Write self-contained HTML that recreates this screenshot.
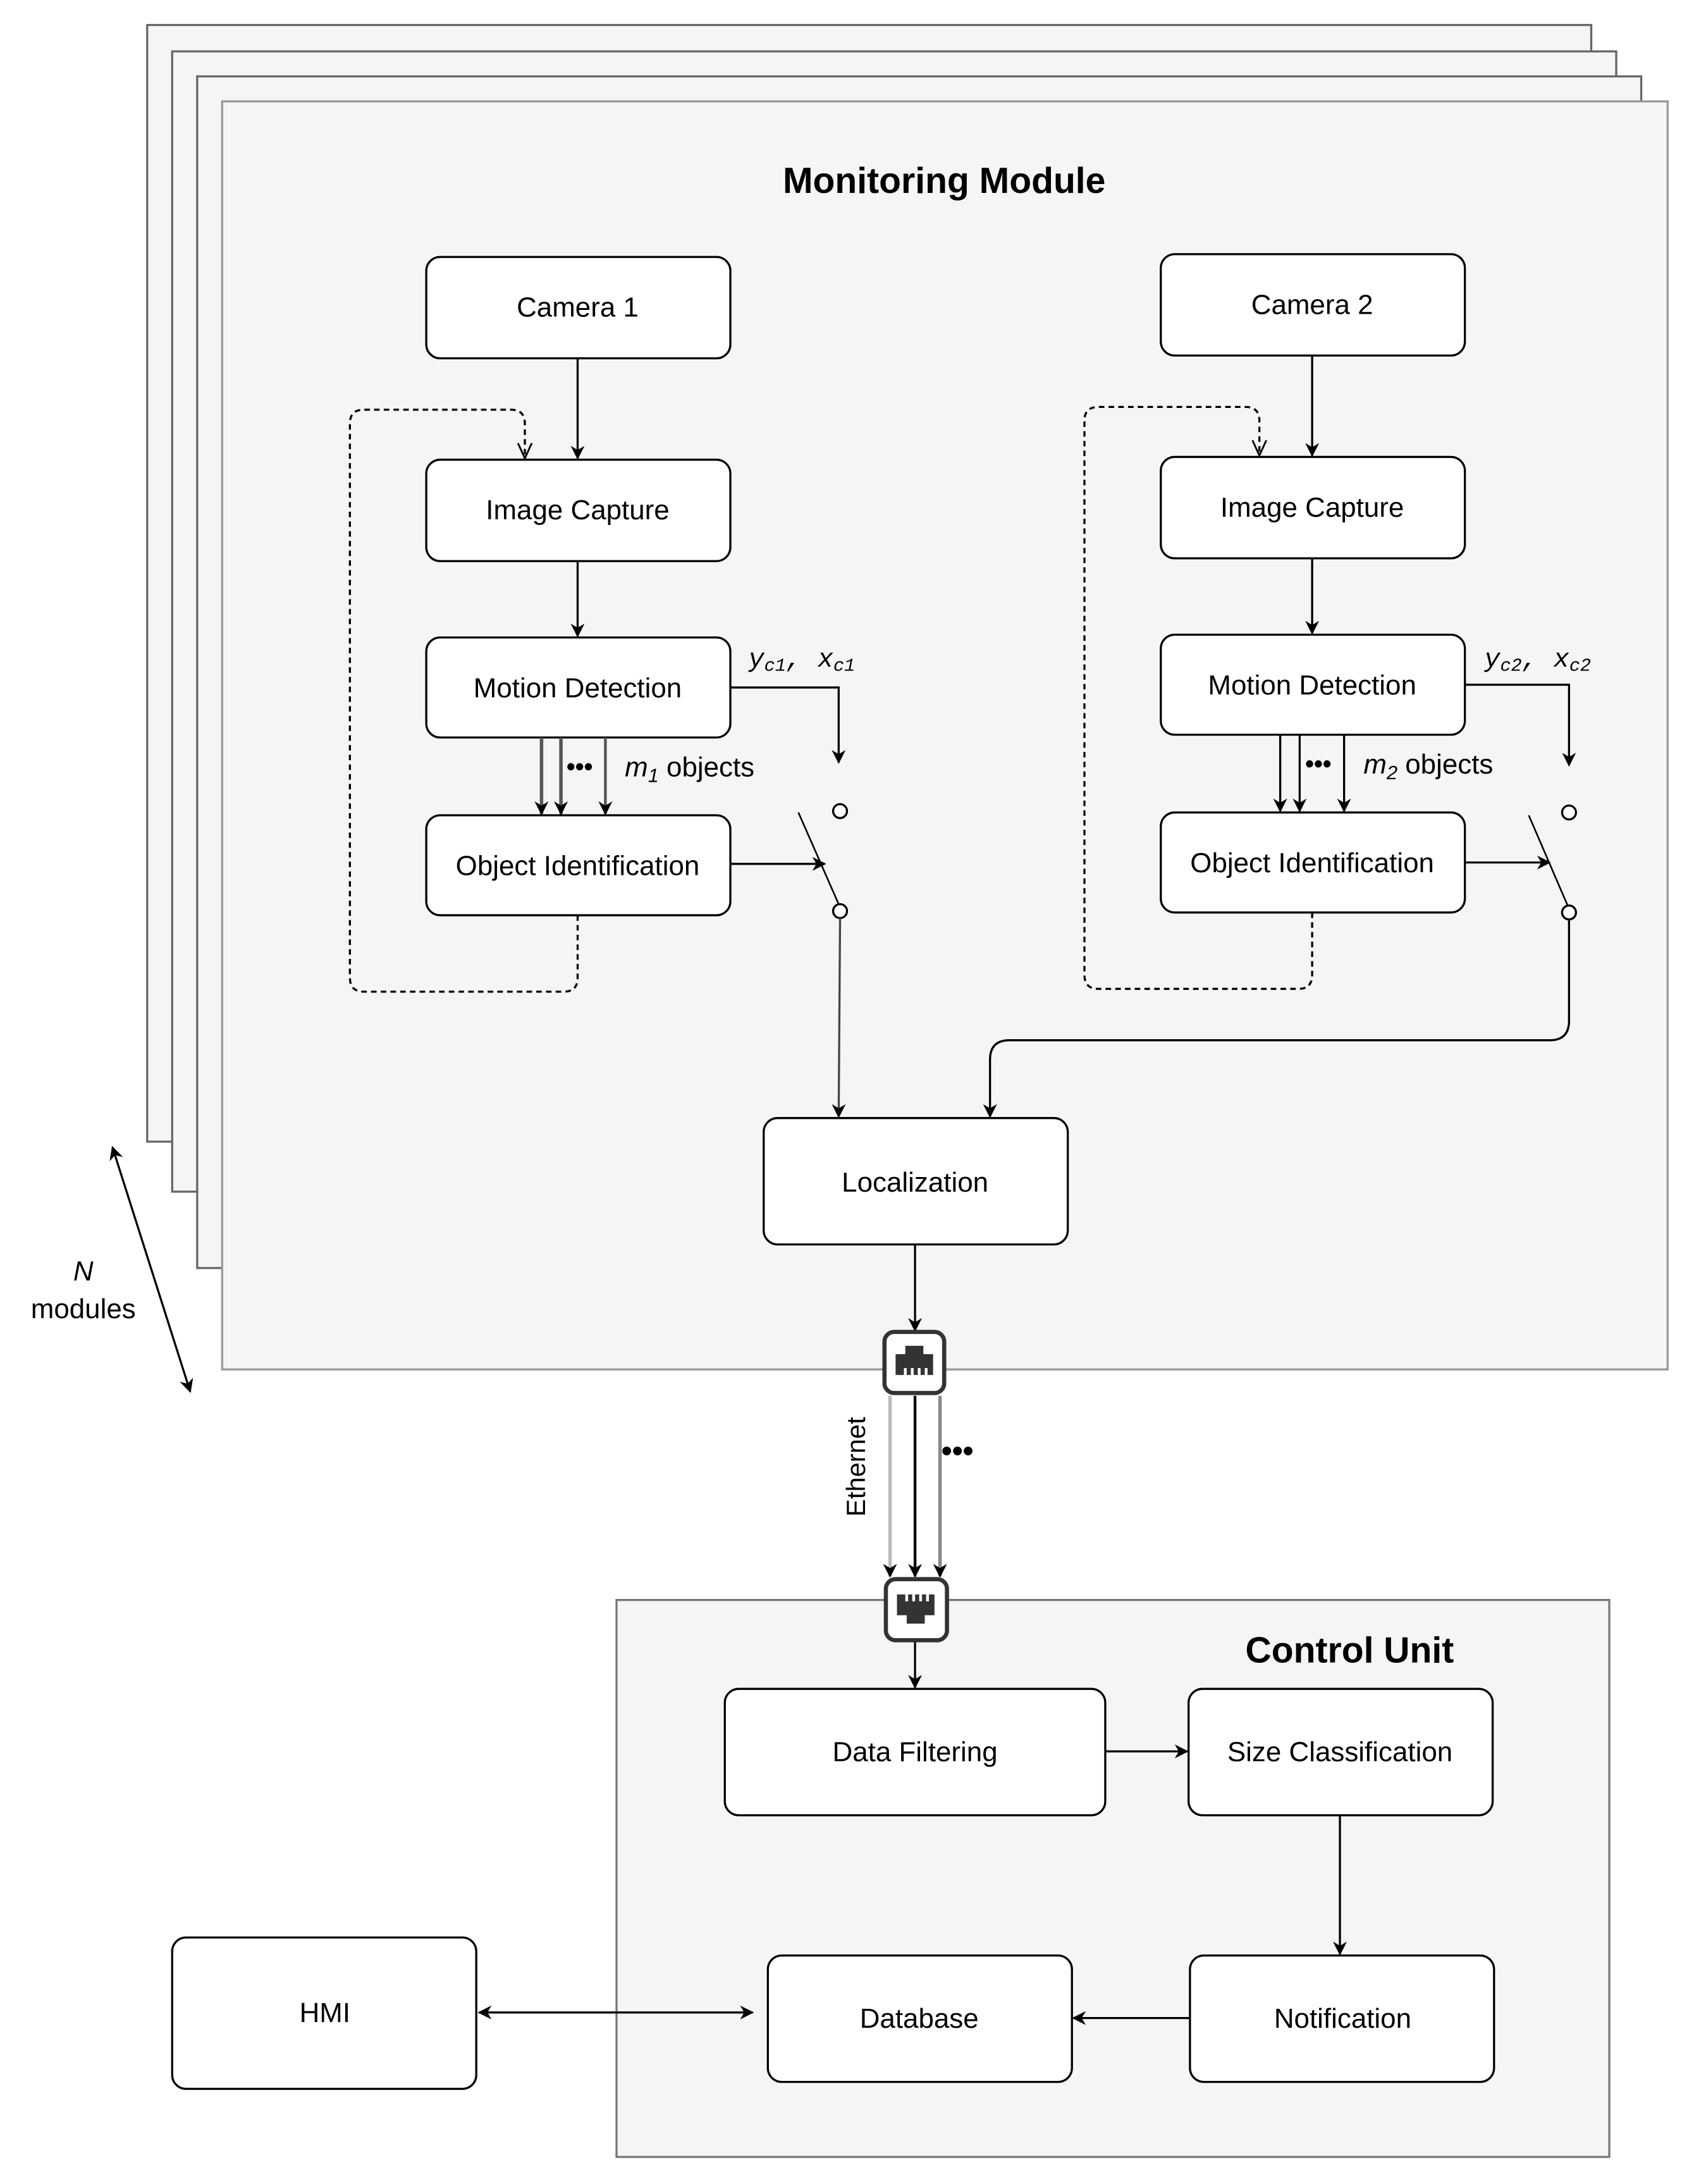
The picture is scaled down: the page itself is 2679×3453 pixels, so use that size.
<!DOCTYPE html>
<html><head><meta charset="utf-8"><style>html,body{margin:0;padding:0;background:#fff}svg{display:block}</style></head>
<body>
<svg width="2679" height="3453" viewBox="0 0 1220 1572.5" preserveAspectRatio="none" xmlns="http://www.w3.org/2000/svg" font-family="Liberation Sans, sans-serif">
<defs>
<marker id="a" markerWidth="10" markerHeight="10" refX="9" refY="5" orient="auto" markerUnits="userSpaceOnUse"><path d="M0,0 L10,5 L0,10 L3,5 z" fill="#000"/></marker>
<marker id="as" markerWidth="10" markerHeight="10" refX="1" refY="5" orient="auto" markerUnits="userSpaceOnUse"><path d="M10,0 L0,5 L10,10 L7,5 z" fill="#000"/></marker>
<marker id="ao" markerWidth="12" markerHeight="12" refX="11" refY="6" orient="auto" markerUnits="userSpaceOnUse"><path d="M0,1 L11,6 L0,11" fill="none" stroke="#000" stroke-width="1.3"/></marker>
<marker id="aso" markerWidth="12" markerHeight="12" refX="1" refY="6" orient="auto" markerUnits="userSpaceOnUse"><path d="M12,1 L1,6 L12,11" fill="none" stroke="#000" stroke-width="1.3"/></marker>
</defs>
<g fill="#f5f5f5" stroke="#666" stroke-width="1.5">
<rect x="106" y="18" width="1040" height="804"/>
<rect x="124" y="37" width="1040" height="821"/>
<rect x="142" y="55" width="1040" height="858"/>
<rect x="160" y="73" width="1041" height="913" stroke="#999"/>
<rect x="444" y="1152" width="715" height="401" stroke="#777"/>
</g>
<text x="680" y="139" font-size="26" font-weight="bold" text-anchor="middle">Monitoring Module</text>
<text x="972" y="1197" font-size="26" font-weight="bold" text-anchor="middle">Control Unit</text>
<g fill="#fff" stroke="#000" stroke-width="1.5">
<rect x="307" y="185" width="219" height="73" rx="10"/>
<rect x="836" y="183" width="219" height="73" rx="10"/>
<rect x="307" y="331" width="219" height="73" rx="10"/>
<rect x="836" y="329" width="219" height="73" rx="10"/>
<rect x="307" y="459" width="219" height="72" rx="10"/>
<rect x="836" y="457" width="219" height="72" rx="10"/>
<rect x="307" y="587" width="219" height="72" rx="10"/>
<rect x="836" y="585" width="219" height="72" rx="10"/>
<rect x="550" y="805" width="219" height="91" rx="10"/>
<rect x="522" y="1216" width="274" height="91" rx="10"/>
<rect x="856" y="1216" width="219" height="91" rx="10"/>
<rect x="553" y="1408" width="219" height="91" rx="10"/>
<rect x="857" y="1408" width="219" height="91" rx="10"/>
<rect x="124" y="1395" width="219" height="109" rx="10"/>
</g>
<g font-size="20" text-anchor="middle">
<text x="416" y="228">Camera 1</text>
<text x="945" y="226">Camera 2</text>
<text x="416" y="374">Image Capture</text>
<text x="945" y="372">Image Capture</text>
<text x="416" y="502">Motion Detection</text>
<text x="945" y="500">Motion Detection</text>
<text x="416" y="630">Object Identification</text>
<text x="945" y="628">Object Identification</text>
<text x="659" y="858">Localization</text>
<text x="659" y="1268">Data Filtering</text>
<text x="965" y="1268">Size Classification</text>
<text x="662" y="1460">Database</text>
<text x="967" y="1460">Notification</text>
<text x="234" y="1456">HMI</text>
</g>
<g stroke="#000" stroke-width="1.5" fill="none">
<path d="M416 258 V330" marker-end="url(#a)"/>
<path d="M945 256 V328" marker-end="url(#a)"/>
<path d="M416 404 V458" marker-end="url(#a)"/>
<path d="M945 402 V456" marker-end="url(#a)"/>
<path d="M416 659 V704 Q416 714 406 714 H262 Q252 714 252 704 V305 Q252 295 262 295 H368 Q378 295 378 305 V330" stroke-dasharray="4,3" marker-end="url(#ao)"/>
<path d="M945 657 V702 Q945 712 935 712 H791 Q781 712 781 702 V303 Q781 293 791 293 H897 Q907 293 907 303 V328" stroke-dasharray="4,3" marker-end="url(#ao)"/>
<path d="M390 531 V586" stroke="#555" stroke-width="2.5" marker-end="url(#a)"/>
<path d="M404 531 V586" stroke="#555" stroke-width="2.5" marker-end="url(#a)"/>
<path d="M436 531 V586" stroke="#555" stroke-width="2" marker-end="url(#a)"/>
<path d="M922 529 V584" marker-end="url(#a)"/>
<path d="M936 529 V584" marker-end="url(#a)"/>
<path d="M968 529 V584" marker-end="url(#a)"/>
<path d="M526 495 H604 V549" marker-end="url(#a)"/>
<path d="M1055 493 H1130 V551" marker-end="url(#a)"/>
<circle cx="605" cy="584" r="5" fill="#fff"/>
<circle cx="605" cy="656" r="5" fill="#fff"/>
<circle cx="1130" cy="585" r="5" fill="#fff"/>
<circle cx="1130" cy="657" r="5" fill="#fff"/>
<path d="M575 585 L604 651" stroke-width="1.2"/>
<path d="M1101 587 L1129 652" stroke-width="1.2"/>
<path d="M526 622 H594" marker-end="url(#a)"/>
<path d="M1055 621 H1116" marker-end="url(#a)"/>
<path d="M605 661 L604 804" stroke="#444" marker-end="url(#a)"/>
<path d="M1130 662 V735 Q1130 749 1116 749 H727 Q713 749 713 763 V804" marker-end="url(#a)"/>
<path d="M659 896 V958" marker-end="url(#a)"/>
<path d="M641 1005 V1135" stroke="#bbb" stroke-width="2.5" marker-end="url(#a)"/>
<path d="M659 1005 V1135" stroke-width="2" marker-end="url(#a)"/>
<path d="M677 1005 V1135" stroke="#888" stroke-width="2.5" marker-end="url(#a)"/>
<path d="M659 1181 V1215" marker-end="url(#a)"/>
<path d="M796 1261 H855" marker-end="url(#a)"/>
<path d="M965 1307 V1407" marker-end="url(#a)"/>
<path d="M857 1453 H773" marker-end="url(#a)"/>
<path d="M345 1449 H542" marker-start="url(#as)" marker-end="url(#a)"/>
<path d="M81 826 L137 1002" marker-start="url(#as)" marker-end="url(#a)"/>
</g>
<g stroke="#333" stroke-width="3" fill="#fff">
<rect x="637" y="959" width="43" height="44" rx="7"/>
<rect x="638" y="1137" width="44" height="44" rx="7"/>
</g>
<g fill="#333">
<path d="M645 975 H652 V969 H665 V975 H672 V990 H645 z"/>
<path d="M646 1148 H673 V1163 H666 V1169 H653 V1163 H646 z"/>
</g>
<g fill="#fff"><rect x="651" y="985" width="2" height="5"/><rect x="656" y="985" width="2" height="5"/><rect x="661" y="985" width="2" height="5"/><rect x="666" y="985" width="2" height="5"/>
<rect x="652" y="1148" width="2" height="5"/><rect x="657" y="1148" width="2" height="5"/><rect x="662" y="1148" width="2" height="5"/><rect x="667" y="1148" width="2" height="5"/></g>
<text transform="translate(623 1092) rotate(-90)" font-size="19">Ethernet</text>
<text x="678" y="1052" font-size="22" font-weight="bold">•••</text>
<text x="408" y="558" font-size="18" font-weight="bold">•••</text>
<text x="940" y="556" font-size="18" font-weight="bold">•••</text>
<text x="450" y="559" font-size="20"><tspan font-style="italic">m</tspan><tspan font-style="italic" font-size="14" dy="4">1</tspan><tspan dy="-4"> objects</tspan></text>
<text x="982" y="557" font-size="20"><tspan font-style="italic">m</tspan><tspan font-style="italic" font-size="14" dy="4">2</tspan><tspan dy="-4"> objects</tspan></text>
<g font-family="Liberation Mono, monospace" font-style="italic" font-size="19">
<text x="539" y="480">y<tspan font-size="13" dy="3">c1</tspan><tspan dy="-3">,  x</tspan><tspan font-size="13" dy="3">c1</tspan></text>
<text x="1069" y="480">y<tspan font-size="13" dy="3">c2</tspan><tspan dy="-3">,  x</tspan><tspan font-size="13" dy="3">c2</tspan></text>
</g>
<text x="60" y="922" font-size="20" font-style="italic" text-anchor="middle">N</text>
<text x="60" y="949" font-size="20" text-anchor="middle">modules</text>
</svg>
</body></html>
